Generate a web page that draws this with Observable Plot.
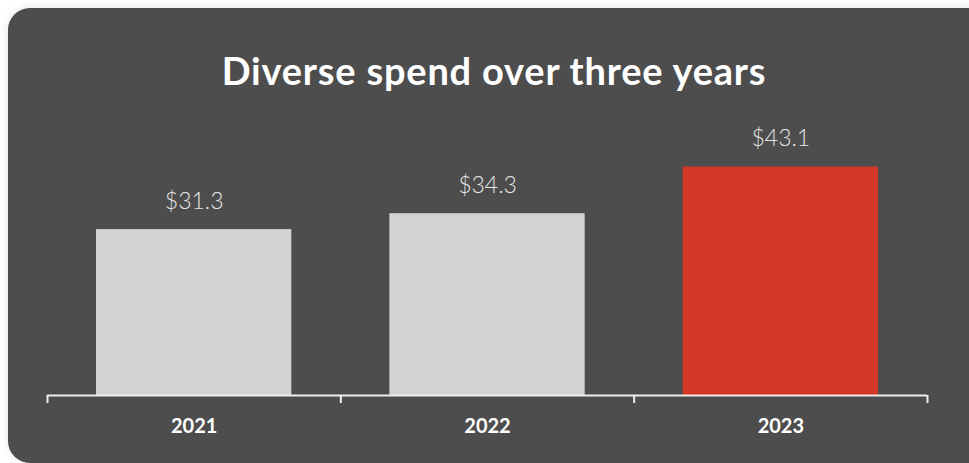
<!DOCTYPE html>
<html><head><meta charset="utf-8">
<script src="https://cdn.jsdelivr.net/npm/d3@7"></script>
<script src="https://cdn.jsdelivr.net/npm/@observablehq/plot@0.6"></script>
<style>
body{margin:0;background:#fff;width:969px;height:463px;overflow:hidden;position:relative;font-family:Lato,sans-serif}
#card{position:absolute;left:8px;top:8px;width:990px;height:455px;background:#4d4d4d;border-radius:22px;box-shadow:0 0 8px rgba(0,0,0,0.12)}
#title{position:absolute;left:0;top:48px;width:988px;text-align:center;color:#fff;font-weight:700;font-size:38px;letter-spacing:0.8px;line-height:1.2}
#chart{position:absolute;left:0;top:0}
</style></head><body>
<div id="card"></div>
<div id="title">Diverse spend over three years</div>
<div id="chart"></div>
<script>
const years = ["2021", "2022", "2023"];
const values = [31.3, 34.3, 43.1];
const valueLabels = ["$31.3", "$34.3", "$43.1"];
const barColors = ["#d3d3d3", "#d3d3d3", "#d43726"];
const boundaryTicks = [0, 1, 2, 3];

const data = years.map((y, i) => ({year: y, i, value: values[i], label: valueLabels[i], color: barColors[i]}));

const plot = Plot.plot({
  width: 969, height: 463,
  marginLeft: 47, marginRight: 42, marginTop: 130, marginBottom: 68,
  style: {background: "transparent", fontFamily: "Lato, sans-serif", overflow: "visible"},
  x: {type: "linear", domain: [0, 3], label: null},
  y: {domain: [0, 50], axis: null},
  marks: [
    Plot.rectY(data, {x1: "i", x2: d => d.i + 1, y: "value", fill: "color", insetLeft: 49, insetRight: 49}),
    Plot.ruleY([0], {stroke: "#eeeeee", strokeWidth: 2}),
    Plot.axisX({ticks: boundaryTicks, tickSize: 8, tickFormat: () => "", label: null, stroke: "#eeeeee", strokeWidth: 2}),
    Plot.text(data, {x: d => d.i + 0.5, y: "value", text: "label", dy: -28, fill: "#e6e6e6", fontSize: 23, fontWeight: 300}),
    Plot.text(data, {x: d => d.i + 0.5, y: 0, text: "year", dy: 31, fill: "#ffffff", fontSize: 20, fontWeight: 700})
  ]
});
document.getElementById("chart").appendChild(plot);
</script>
</body></html>
